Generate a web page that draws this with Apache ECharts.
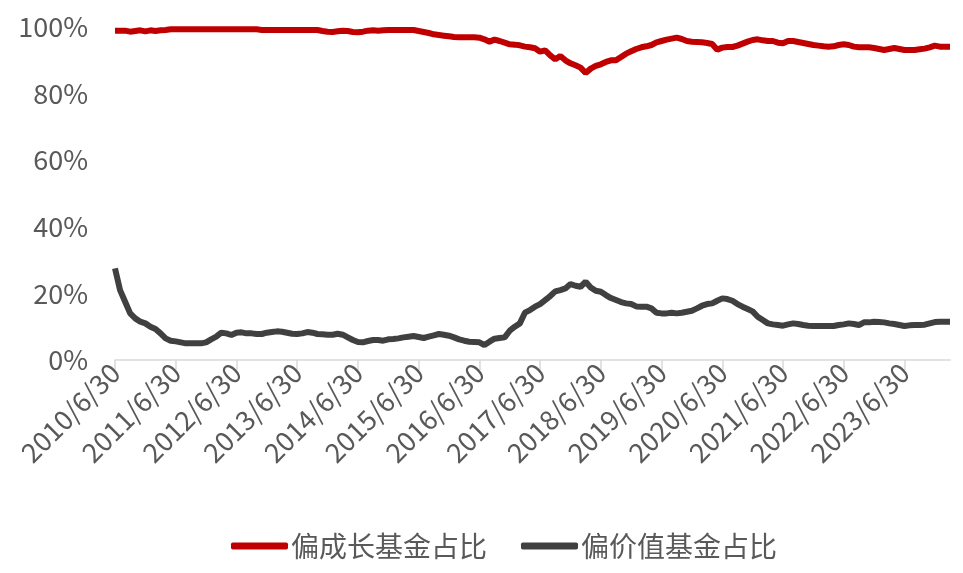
<!DOCTYPE html>
<html>
<head>
<meta charset="utf-8">
<script src="https://cdn.jsdelivr.net/npm/echarts@6/dist/echarts.min.js"></script>
<style>html,body{margin:0;padding:0;background:#fff}#c{width:963px;height:573px}</style>
</head>
<body>
<div id="c"></div>
<script>
// Month-end observations from 2010/6/30 to 2024/3/31
const startYear = 2010, startMonth = 6, monthCount = 166;
const tickLabels = ['2010/6/30','2011/6/30','2012/6/30','2013/6/30','2014/6/30','2015/6/30','2016/6/30',
  '2017/6/30','2018/6/30','2019/6/30','2020/6/30','2021/6/30','2022/6/30','2023/6/30'];
const seriesNames = ['偏成长基金占比','偏价值基金占比'];

const growthShare = [
  98.9,98.9,98.9,98.6,98.8,99.0,98.7,99.0,98.8,99.0,
  99.1,99.3,99.3,99.3,99.3,99.3,99.3,99.3,99.3,99.3,
  99.3,99.3,99.3,99.3,99.3,99.3,99.3,99.3,99.3,99.1,
  99.1,99.1,99.1,99.1,99.1,99.1,99.1,99.1,99.1,99.1,
  99.1,98.8,98.6,98.5,98.7,98.9,98.8,98.5,98.4,98.6,
  98.9,99.0,98.9,99.0,99.1,99.1,99.1,99.1,99.1,99.1,
  98.8,98.5,98.2,97.8,97.6,97.4,97.2,97.0,96.9,96.9,
  96.9,96.9,96.8,96.3,95.6,96.2,95.8,95.3,94.8,94.7,
  94.5,94.1,93.9,93.6,92.6,93.0,91.5,90.3,91.3,90.0,
  89.1,88.5,87.8,86.2,87.5,88.3,88.8,89.5,90.0,90.0,
  91.0,92.0,92.7,93.4,93.9,94.2,94.6,95.4,95.8,96.2,
  96.5,96.8,96.4,95.8,95.6,95.5,95.4,95.2,94.9,93.2,
  93.8,94.0,94.0,94.4,95.0,95.6,96.1,96.3,96.0,95.8,
  95.8,95.3,95.1,95.8,95.8,95.5,95.2,94.9,94.6,94.4,
  94.2,94.1,94.2,94.6,94.8,94.6,94.1,93.9,93.9,93.9,
  93.7,93.4,93.1,93.4,93.7,93.4,93.1,93.1,93.1,93.3,
  93.5,93.9,94.4,94.1,94.1,94.1
];
const valueShare = [
  27.5,21.0,17.5,14.0,12.5,11.5,11.0,10.0,9.3,8.0,
  6.5,5.8,5.6,5.3,5.0,5.0,5.0,5.0,5.3,6.2,
  7.0,8.2,8.0,7.5,8.2,8.3,8.0,8.0,7.8,7.8,
  8.2,8.4,8.6,8.5,8.2,7.9,7.8,8.0,8.4,8.2,
  7.8,7.7,7.6,7.6,7.9,7.6,6.8,6.0,5.4,5.3,
  5.7,6.0,6.0,5.8,6.2,6.3,6.5,6.8,7.0,7.2,
  6.9,6.6,7.0,7.4,7.8,7.6,7.3,6.8,6.2,5.8,
  5.5,5.4,5.3,4.5,5.5,6.4,6.6,6.8,8.8,10.0,
  11.0,14.2,15.0,16.0,16.8,18.0,19.2,20.6,21.0,21.5,
  22.8,22.3,22.0,23.5,21.8,20.8,20.5,19.5,18.6,18.0,
  17.4,17.0,16.8,16.1,16.0,16.0,15.5,14.2,14.0,14.0,
  14.2,14.0,14.2,14.5,14.8,15.5,16.3,16.8,17.0,17.8,
  18.5,18.3,17.8,16.8,16.0,15.3,14.6,13.0,12.0,11.0,
  10.7,10.5,10.3,10.7,11.0,10.8,10.5,10.3,10.2,10.2,
  10.2,10.2,10.2,10.5,10.7,11.0,10.8,10.5,11.3,11.3,
  11.5,11.4,11.3,11.0,10.8,10.5,10.2,10.4,10.5,10.5,
  10.6,11.0,11.4,11.5,11.5,11.5
];

const categories = [];
for (let k = 0; k < monthCount; k++) {
  const m0 = startMonth - 1 + k;
  const y = startYear + Math.floor(m0 / 12);
  const m = (m0 % 12) + 1;
  const d = new Date(y, m, 0).getDate();
  categories.push(y + '/' + m + '/' + d);
}
const showTick = (idx, val) => tickLabels.indexOf(categories[idx]) >= 0;

const chart = echarts.init(document.getElementById('c'), null, {renderer: 'canvas'});
const font = '"Noto Sans CJK SC", "Noto Sans", sans-serif';
chart.setOption({
  animation: false,
  backgroundColor: '#fff',
  grid: {left: 115, right: 13, top: 27, bottom: 213, containLabel: false},
  legend: {
    top: 527, left: 226,
    itemWidth: 57, itemHeight: 7, itemGap: 34, itemStyle: {borderWidth: 0},
    icon: 'roundRect',
    textStyle: {color: '#595959', fontSize: 28, fontFamily: font, padding: [0, 0, 0, -2]},
    data: seriesNames
  },
  xAxis: {
    type: 'category',
    data: categories,
    boundaryGap: false,
    axisLine: {lineStyle: {color: '#d9d9d9', width: 1.5}},
    axisTick: {show: true, interval: showTick, length: 10, lineStyle: {color: '#d9d9d9', width: 1.5}},
    axisLabel: {interval: showTick, rotate: 45, color: '#595959', fontSize: 27, fontFamily: font, margin: 8},
    splitLine: {show: false}
  },
  yAxis: {
    type: 'value', min: 0, max: 100, interval: 20,
    axisLine: {show: false}, axisTick: {show: false},
    splitLine: {show: false},
    axisLabel: {formatter: '{value}%', color: '#595959', fontSize: 27, fontFamily: font, margin: 27}
  },
  series: [
    {name: seriesNames[0], type: 'line', data: growthShare, showSymbol: false, symbol: 'none',
     lineStyle: {color: '#C00000', width: 6}, itemStyle: {color: '#C00000'}},
    {name: seriesNames[1], type: 'line', data: valueShare, showSymbol: false, symbol: 'none',
     lineStyle: {color: '#404040', width: 6}, itemStyle: {color: '#404040'}}
  ]
});
</script>
</body>
</html>
